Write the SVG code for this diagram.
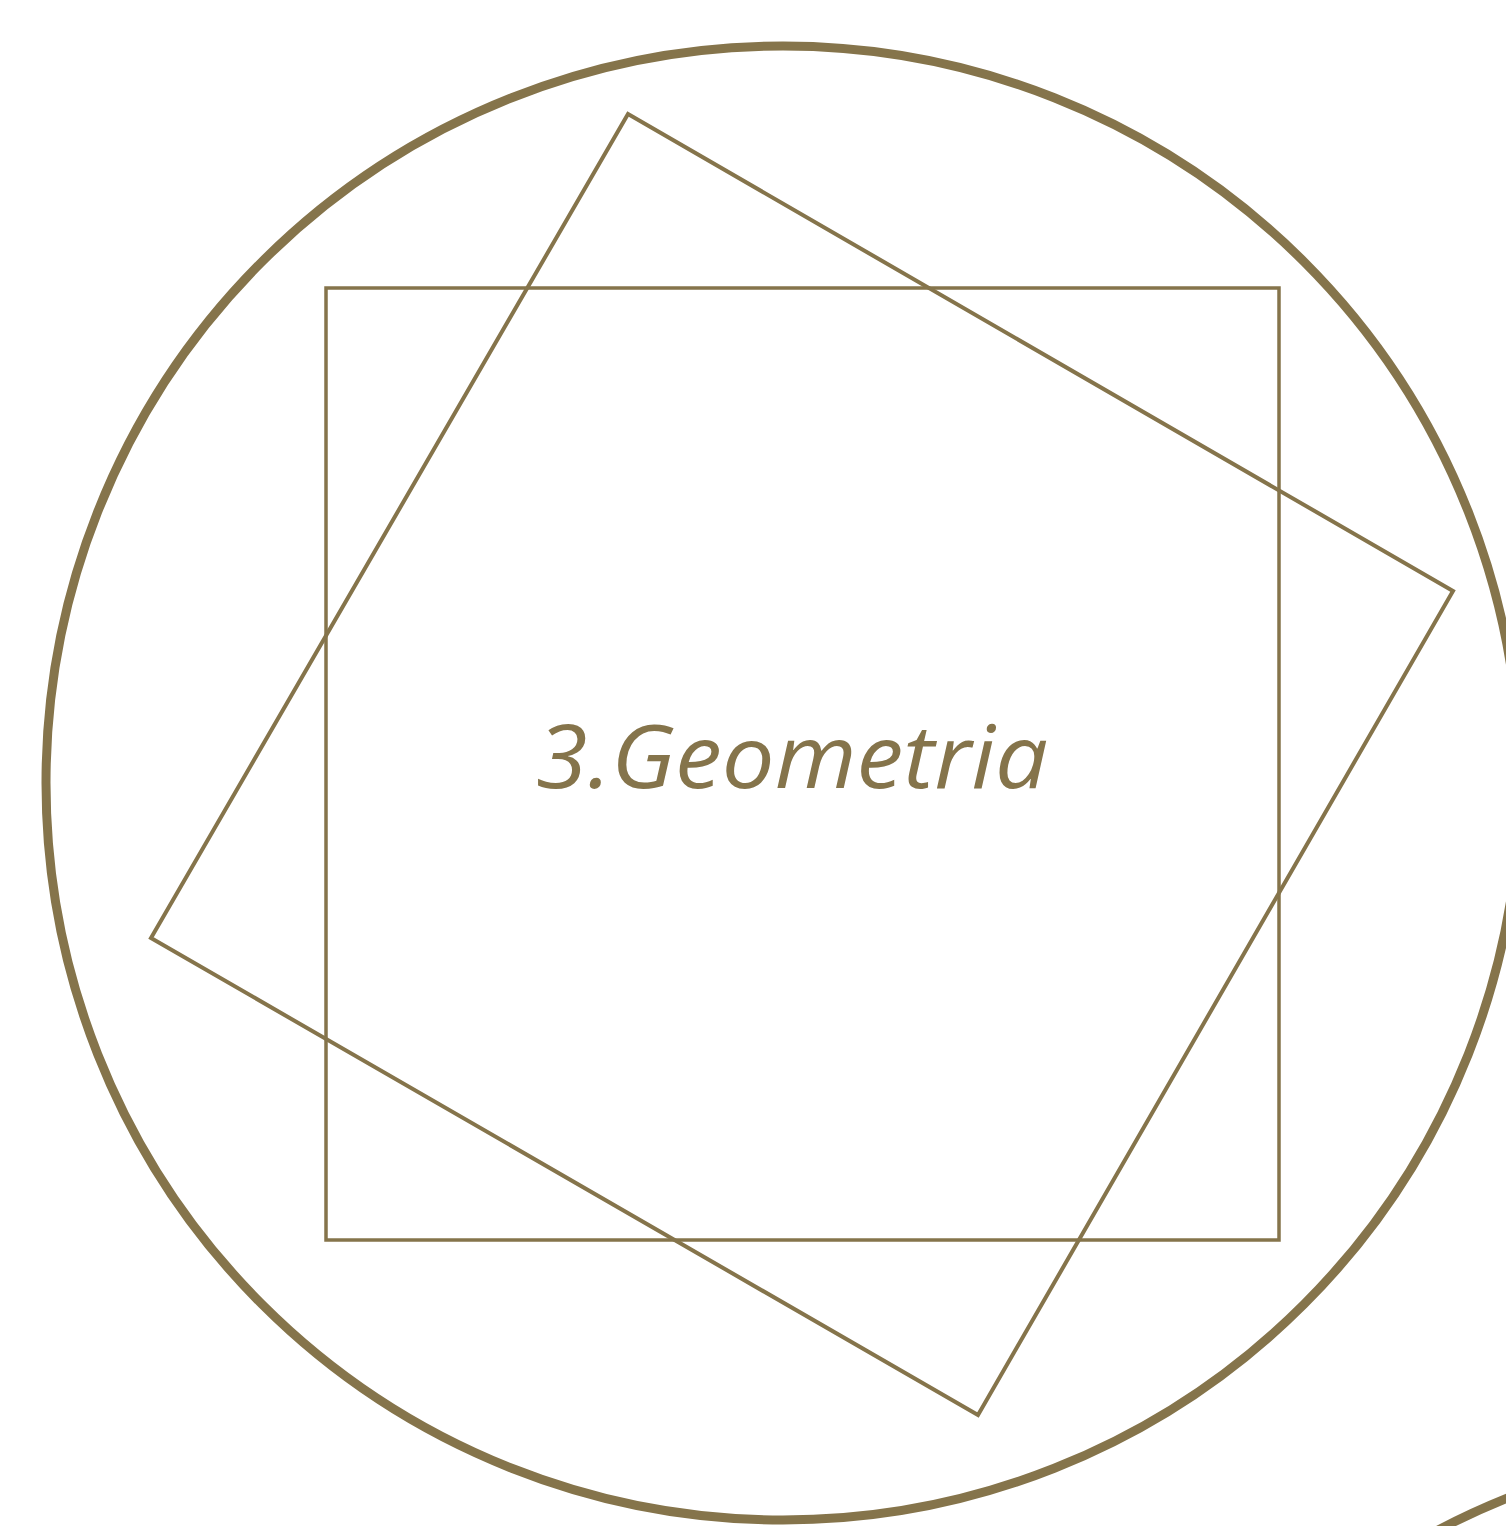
<svg xmlns="http://www.w3.org/2000/svg" width="1506" height="1526" viewBox="0 0 1506 1526">
<style>
.ln{fill:none;stroke:#85744B}
.lbl{font-family:"Open Sans","Liberation Sans",sans-serif;font-style:italic;font-size:88px;fill:#85744B}
</style>
<rect width="1506" height="1526" fill="#ffffff"/>
<g id="outer-circle"><circle class="ln" cx="783" cy="783" r="737" stroke-width="9"/></g>
<g id="next-circle"><circle class="ln" cx="1782" cy="2182" r="737" stroke-width="9"/></g>
<g id="square"><rect class="ln" x="326" y="288" width="953" height="952" stroke-width="3.5"/></g>
<g id="rotated-square"><polygon class="ln" points="628,114 1453,591 978,1415 151,938" stroke-width="4"/></g>
<g id="label"><text class="lbl" x="792" y="788" text-anchor="middle" textLength="512" lengthAdjust="spacingAndGlyphs">3.Geometria</text></g>
<g id="connectors"/>
</svg>
